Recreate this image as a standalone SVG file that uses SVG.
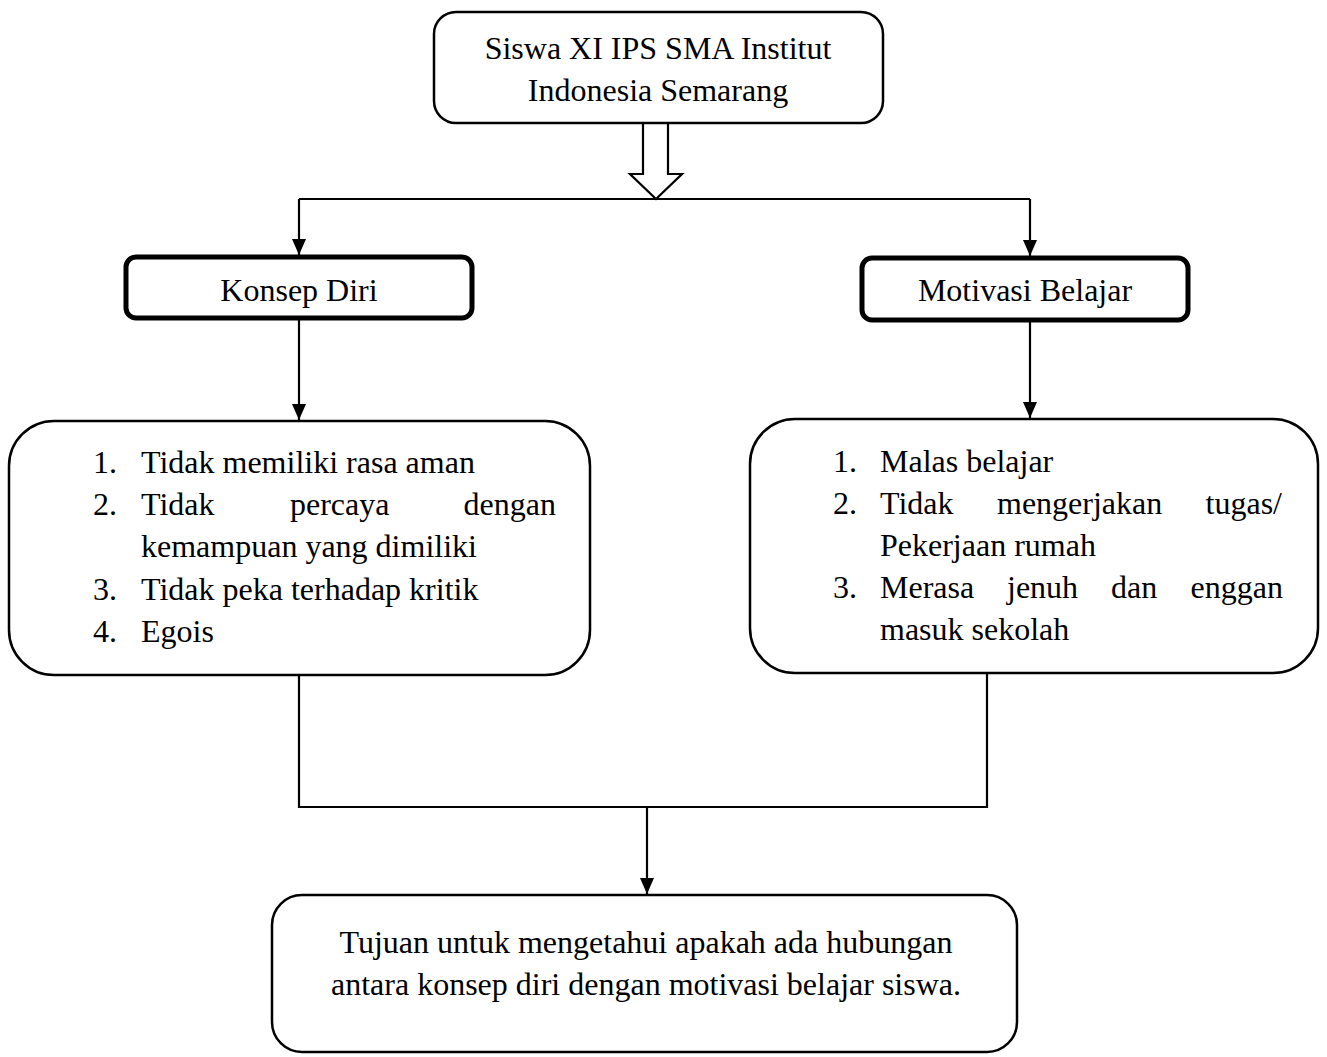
<svg xmlns="http://www.w3.org/2000/svg" width="1327" height="1057" viewBox="0 0 1327 1057">
<style>
  text { font-family: "Liberation Serif", "Times New Roman", serif; font-size: 32px; fill: #000; }
  .c { text-anchor: middle; }
  .e { text-anchor: end; }
  .box { fill: #fff; stroke: #000; stroke-width: 2.5; }
  .thick { fill: #fff; stroke: #000; stroke-width: 5; }
  .line { fill: none; stroke: #000; stroke-width: 2.2; }
</style>
<defs>
  <marker id="arrd" markerUnits="userSpaceOnUse" markerWidth="16" markerHeight="14" refX="16" refY="7" orient="auto" viewBox="0 0 16 14">
    <path d="M0,0 L16,7 L0,14 Z" fill="#000"/>
  </marker>
</defs>
<rect width="1327" height="1057" fill="#fff"/>

<g id="connectors">
  <polygon points="643,123 668,123 668,174 682,174 656,199 630,174 643,174" fill="#fff" stroke="#000" stroke-width="2.2"/>
  <polyline class="line" points="299,199 1030,199"/>
  <line class="line" x1="299" y1="199" x2="299" y2="255" marker-end="url(#arrd)"/>
  <line class="line" x1="1030" y1="199" x2="1030" y2="256" marker-end="url(#arrd)"/>
  <line class="line" x1="299" y1="318" x2="299" y2="420" marker-end="url(#arrd)"/>
  <line class="line" x1="1030" y1="320" x2="1030" y2="418" marker-end="url(#arrd)"/>
  <polyline class="line" points="299,675 299,807 987,807 987,673"/>
  <line class="line" x1="647" y1="807" x2="647" y2="894" marker-end="url(#arrd)"/>
</g>

<g id="node-siswa">
  <rect class="box" x="434" y="12" width="449" height="111" rx="22"/>
  <text class="c" x="658" y="59">Siswa XI IPS SMA Institut</text>
  <text class="c" x="658" y="101">Indonesia Semarang</text>
</g>

<g id="node-konsep">
  <rect class="thick" x="126" y="257" width="346" height="61" rx="10"/>
  <text class="c" x="299" y="301">Konsep Diri</text>
</g>

<g id="node-motivasi">
  <rect class="thick" x="862" y="258" width="326" height="62" rx="10"/>
  <text class="c" x="1025" y="301">Motivasi Belajar</text>
</g>

<g id="node-konsep-list">
  <rect class="box" x="9" y="421" width="581" height="254" rx="45"/>
  <text x="93" y="473">1.</text>
  <text x="141" y="473">Tidak memiliki rasa aman</text>
  <text x="93" y="515">2.</text>
  <text x="141" y="515">Tidak</text>
  <text x="290" y="515">percaya</text>
  <text class="e" x="556" y="515">dengan</text>
  <text x="141" y="557">kemampuan yang dimiliki</text>
  <text x="93" y="600">3.</text>
  <text x="141" y="600">Tidak peka terhadap kritik</text>
  <text x="93" y="642">4.</text>
  <text x="141" y="642">Egois</text>
</g>

<g id="node-motivasi-list">
  <rect class="box" x="750" y="419" width="568" height="254" rx="45"/>
  <text x="833" y="472">1.</text>
  <text x="880" y="472">Malas belajar</text>
  <text x="833" y="514">2.</text>
  <text x="880" y="514">Tidak</text>
  <text x="997" y="514">mengerjakan</text>
  <text class="e" x="1282" y="514">tugas/</text>
  <text x="880" y="556">Pekerjaan rumah</text>
  <text x="833" y="598">3.</text>
  <text x="880" y="598">Merasa</text>
  <text x="1007" y="598">jenuh</text>
  <text x="1111" y="598">dan</text>
  <text class="e" x="1283" y="598">enggan</text>
  <text x="880" y="640">masuk sekolah</text>
</g>

<g id="node-tujuan">
  <rect class="box" x="272" y="895" width="745" height="157" rx="30"/>
  <text class="c" x="646" y="953">Tujuan untuk mengetahui apakah ada hubungan</text>
  <text class="c" x="646" y="995">antara konsep diri dengan motivasi belajar siswa.</text>
</g>
</svg>
